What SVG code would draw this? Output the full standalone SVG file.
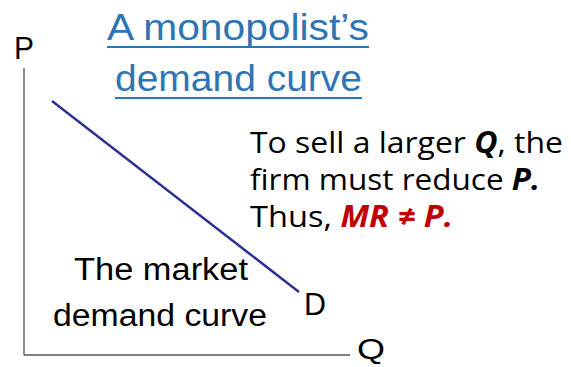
<svg xmlns="http://www.w3.org/2000/svg" width="571" height="367" viewBox="0 0 571 367">
<style>
.cm{font-family:"Liberation Sans","DejaVu Sans",sans-serif;fill:#000}
.title{font-family:"Liberation Sans","DejaVu Sans",sans-serif;fill:#2e75b6;font-size:37px}
.ul{stroke:#2e75b6;stroke-width:2}
.cal{font-family:"Open Sans","Liberation Sans",sans-serif;font-size:30px;fill:#000}
.bi{font-weight:bold;font-style:italic}
.red{fill:#c00000}
</style>
<rect width="571" height="367" fill="#fff"/>
<g id="title">
<text class="title" x="107" y="40" textLength="262" lengthAdjust="spacingAndGlyphs">A monopolist’s</text>
<line class="ul" x1="107" y1="47" x2="369" y2="47"/>
<text class="title" x="115" y="91" textLength="247" lengthAdjust="spacingAndGlyphs">demand curve</text>
<line class="ul" x1="115" y1="98" x2="362" y2="98"/>
</g>
<g id="axes">
<line x1="24" y1="68" x2="24" y2="355" stroke="#555" stroke-width="1.3"/>
<line x1="24" y1="355" x2="350" y2="355" stroke="#555" stroke-width="1.3"/>
<text class="cm" x="14" y="59" font-size="31" textLength="20" lengthAdjust="spacingAndGlyphs">P</text>
<text class="cm" x="357" y="359" font-size="30" textLength="28" lengthAdjust="spacingAndGlyphs">Q</text>
</g>
<g id="connectors">
<line id="demand" x1="52" y1="101" x2="299" y2="292" stroke="#2e3192" stroke-width="2.5"/>
</g>
<g id="label-D">
<text class="cm" x="304" y="315" font-size="31" textLength="22" lengthAdjust="spacingAndGlyphs">D</text>
</g>
<g id="market-label">
<text class="cm" x="74" y="280" font-size="31" textLength="174" lengthAdjust="spacingAndGlyphs">The market</text>
<text class="cm" x="53" y="326" font-size="31" textLength="214" lengthAdjust="spacingAndGlyphs">demand curve</text>
</g>
<g id="note">
<text class="cal" x="250" y="153" textLength="313" lengthAdjust="spacingAndGlyphs">To sell a larger <tspan class="bi">Q</tspan>, the</text>
<text class="cal" x="250" y="190" textLength="290" lengthAdjust="spacingAndGlyphs">firm must reduce <tspan class="bi">P.</tspan></text>
<text class="cal" x="250" y="227" textLength="203" lengthAdjust="spacingAndGlyphs">Thus, <tspan class="bi red">MR ≠ P.</tspan></text>
</g>
</svg>
